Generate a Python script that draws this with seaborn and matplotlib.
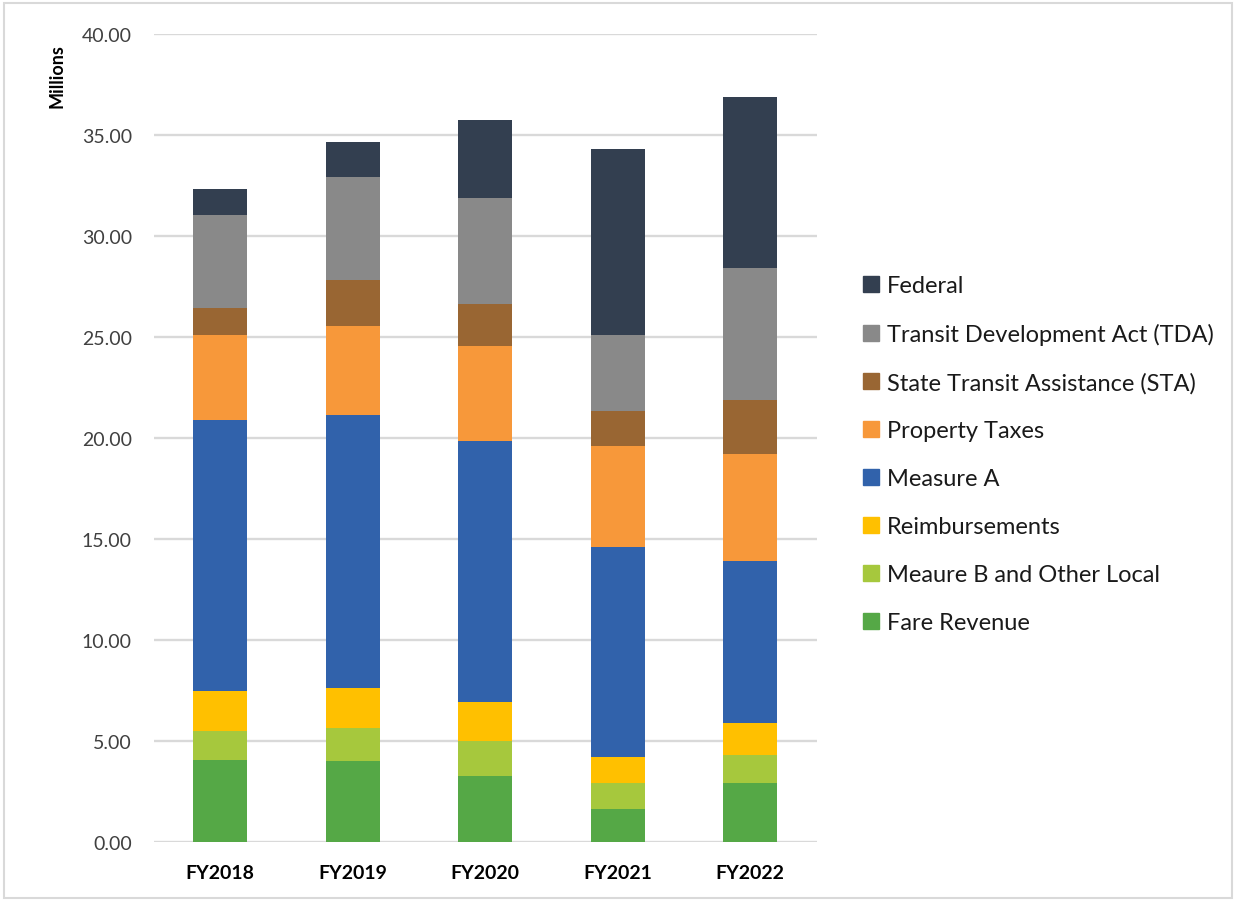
import matplotlib
matplotlib.use("Agg")
import matplotlib.pyplot as plt
import matplotlib.patches as mpatches
import numpy as np
import pandas as pd
import seaborn as sns

# Revenue sources by fiscal year, in millions
years = ["FY2018", "FY2019", "FY2020", "FY2021", "FY2022"]
fare_revenue = [4.06, 3.99, 3.25, 1.65, 2.92]
measure_b_other = [1.45, 1.65, 1.77, 1.27, 1.39]
reimbursements = [1.98, 1.97, 1.90, 1.27, 1.60]
measure_a = [13.38, 13.53, 12.95, 10.40, 7.99]
property_taxes = [4.24, 4.42, 4.70, 5.01, 5.32]
sta = [1.34, 2.25, 2.08, 1.72, 2.66]
tda = [4.57, 5.11, 5.22, 3.79, 6.54]
federal = [1.29, 1.73, 3.86, 9.21, 8.45]

series_names = [
    "Fare Revenue",
    "Meaure B and Other Local",
    "Reimbursements",
    "Measure A",
    "Property Taxes",
    "State Transit Assistance (STA)",
    "Transit Development Act (TDA)",
    "Federal",
]
series_values = [fare_revenue, measure_b_other, reimbursements, measure_a,
                 property_taxes, sta, tda, federal]
series_colors = ["#55A846", "#A6C83D", "#FFC000", "#3162AB",
                 "#F7983A", "#996633", "#898989", "#333F50"]

y_ticks = [0, 5, 10, 15, 20, 25, 30, 35, 40]

sns.set_theme(style="white")
plt.rcParams["font.family"] = ["Lato", "DejaVu Sans"]

fig = plt.figure(figsize=(12.36, 9.03), dpi=100)
ax = fig.add_axes([154 / 1236, 60 / 903, 662.5 / 1236, 808 / 903])

bottom = np.zeros(len(years))
for name, vals, col in zip(series_names, series_values, series_colors):
    df = pd.DataFrame({"year": years, "value": vals})
    sns.barplot(data=df, x="year", y="value", color=col, bottom=bottom,
                width=0.41, linewidth=0, ax=ax, zorder=3, saturation=1)
    bottom = bottom + np.array(vals)

ax.set_xlim(-0.5, len(years) - 0.5)
ax.set_ylim(0, 40)
ax.set_yticks(y_ticks)
ax.set_yticklabels([f"{v:.2f}" for v in y_ticks], fontsize=14, color="#404040")
ax.set_xticks(range(len(years)))
ax.set_xticklabels(years, fontsize=14, fontweight="bold", color="#000000")
ax.tick_params(axis="both", length=0)
ax.tick_params(axis="y", pad=16)
ax.tick_params(axis="x", pad=16)
ax.set_xlabel("")
ax.set_ylabel("")
ax.grid(axis="y", color="#D9D9D9", linewidth=1.7, zorder=0)
ax.set_axisbelow(True)
for s in ax.spines.values():
    s.set_visible(False)

fig.text(57 / 1236, 1 - 76 / 903, "Millions", rotation=90, ha="center",
         va="center", fontsize=13, fontweight="bold", color="#000000")

handles = [mpatches.Patch(color=c, label=n)
           for n, c in zip(series_names, series_colors)][::-1]
leg = fig.legend(handles=handles, loc="center left",
                 bbox_to_anchor=(854 / 1236, 1 - 455 / 903), frameon=False,
                 fontsize=17, handlelength=0.68, handleheight=0.68,
                 handletextpad=0.32, labelspacing=1.14, borderaxespad=0)
for t in leg.get_texts():
    t.set_color("#1a1a1a")

# light frame around the whole figure
fig.patches.append(mpatches.Rectangle((4 / 1236, 4 / 903), 1 - 8 / 1236,
                                      1 - 8 / 903, transform=fig.transFigure,
                                      fill=False, edgecolor="#D9D9D9",
                                      linewidth=1.5))

fig.savefig("out.png", dpi=100)
